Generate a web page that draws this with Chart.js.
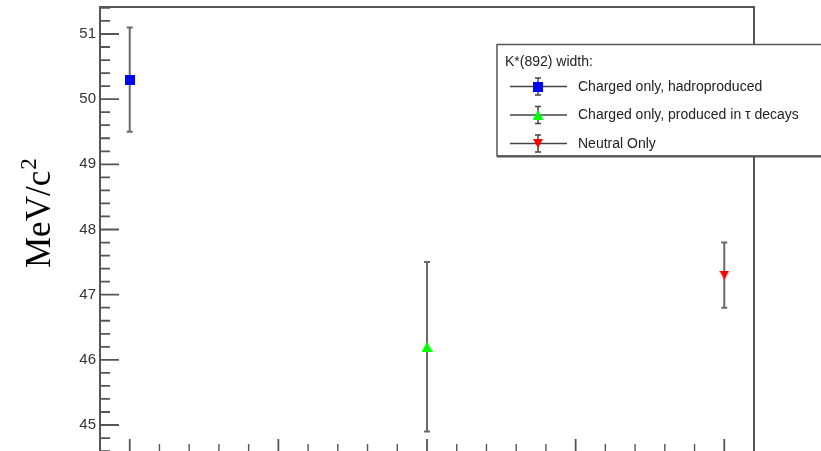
<!DOCTYPE html>
<html lang="en">
<head>
  <meta charset="UTF-8" />
  <title>K*(892) width</title>
  <script src="https://cdn.jsdelivr.net/npm/chart.js"></script>
  <style>
    html, body { margin: 0; padding: 0; background: #fff; overflow: hidden; }
    #wrap { width: 821px; height: 460px; }
  </style>
</head>
<body>
  <div id="wrap"><canvas id="chartCanvas" width="821" height="460"></canvas></div>

  <script>
    // measurements, one point per series
    const xPositions = [1, 2, 3];
    const widths = [50.3, 46.2, 47.3];
    const errors = [0.8, 1.3, 0.5];
    const seriesLabels = [
      'Charged only, hadroproduced',
      'Charged only, produced in \u03C4 decays',
      'Neutral Only'
    ];
    const legendTitle = 'K*(892) width:';
    const yTitle = 'MeV/c';
    const yTitleSup = '2';
    const xMajorTicks = [1, 1.5, 2, 2.5, 3];
    const yRange = [44.586, 51.414];
    const xRange = [0.9, 3.1];

    function markerCanvas(w, h, color, draw) {
      const c = document.createElement('canvas');
      c.width = w; c.height = h;
      const g = c.getContext('2d');
      g.fillStyle = color;
      draw(g, w, h);
      return c;
    }
    const markers = [
      markerCanvas(10, 10, '#0000ff', (g, w, h) => g.fillRect(0, 0, w, h)),
      markerCanvas(11, 10, '#00ff00', (g, w, h) => {
        g.beginPath(); g.moveTo(w / 2, 0); g.lineTo(w, h); g.lineTo(0, h); g.closePath(); g.fill();
      }),
      markerCanvas(10, 9, '#ff0000', (g, w, h) => {
        g.beginPath(); g.moveTo(0, 0); g.lineTo(w, 0); g.lineTo(w / 2, h); g.closePath(); g.fill();
      })
    ];

    function errorBar(ctx, px, top, bot) {
      ctx.beginPath();
      ctx.moveTo(px, top); ctx.lineTo(px, bot);
      ctx.moveTo(px - 3, top); ctx.lineTo(px + 3, top);
      ctx.moveTo(px - 3, bot); ctx.lineTo(px + 3, bot);
      ctx.stroke();
    }

    // ROOT-like frame: inward ticks, error bars, boxed legend
    const rootFrame = {
      id: 'rootFrame',
      beforeDatasetsDraw(chart) {
        const { ctx, scales: { x, y } } = chart;
        ctx.save();
        ctx.strokeStyle = '#6a6a6a';
        ctx.lineWidth = 2;
        xPositions.forEach((xv, i) => {
          const px = x.getPixelForValue(xv);
          errorBar(ctx, px, y.getPixelForValue(widths[i] + errors[i]), y.getPixelForValue(widths[i] - errors[i]));
        });
        ctx.restore();
      },
      afterDraw(chart) {
        const { ctx, chartArea: a, scales: { x, y } } = chart;
        ctx.save();

        // frame
        ctx.strokeStyle = '#444';
        ctx.lineWidth = 1.8;
        ctx.strokeRect(a.left, a.top, a.right - a.left, a.bottom - a.top);

        // y ticks, pointing into the frame
        ctx.strokeStyle = '#555';
        ctx.lineWidth = 1.8;
        ctx.beginPath();
        y.ticks.forEach(t => {
          const py = y.getPixelForValue(t.value);
          ctx.moveTo(a.left, py); ctx.lineTo(a.left + 19, py);
        });
        for (let k = Math.ceil(yRange[0] * 5); k <= Math.floor(yRange[1] * 5); k++) {
          if (k % 5 === 0) continue;
          const py = y.getPixelForValue(k / 5);
          ctx.moveTo(a.left, py); ctx.lineTo(a.left + 10, py);
        }
        ctx.stroke();

        // x ticks
        ctx.beginPath();
        xMajorTicks.forEach(v => {
          const px = x.getPixelForValue(v);
          ctx.moveTo(px, a.bottom); ctx.lineTo(px, a.bottom - 13);
        });
        ctx.stroke();
        ctx.lineWidth = 1.4;
        ctx.beginPath();
        for (let k = Math.ceil(xRange[0] * 10); k <= Math.floor(xRange[1] * 10); k++) {
          if (k % 5 === 0) continue;
          const px = x.getPixelForValue(k / 10);
          ctx.moveTo(px, a.bottom); ctx.lineTo(px, a.bottom - 8);
        }
        ctx.stroke();

        // axis title
        ctx.fillStyle = '#000';
        ctx.translate(50, 268);
        ctx.rotate(-Math.PI / 2);
        ctx.textBaseline = 'alphabetic';
        ctx.textAlign = 'left';
        ctx.font = '35px "Liberation Serif"';
        ctx.fillText(yTitle, 0, 0);
        const tw = ctx.measureText(yTitle).width;
        ctx.font = '23px "Liberation Serif"';
        ctx.fillText(yTitleSup, tw + 1, -14);
        ctx.setTransform(1, 0, 0, 1, 0, 0);

        // legend box
        const bx = 497, by = 44.5, bw = 400, bh = 111.5;
        ctx.fillStyle = '#fff';
        ctx.fillRect(bx, by, bw, bh);
        ctx.strokeStyle = '#555';
        ctx.lineWidth = 1.5;
        ctx.strokeRect(bx, by, bw, bh);
        ctx.lineWidth = 2.2;
        ctx.beginPath(); ctx.moveTo(bx, by + bh + 0.5); ctx.lineTo(bx + bw, by + bh + 0.5); ctx.stroke();

        ctx.font = '14px "Liberation Sans"';
        ctx.textBaseline = 'middle';
        ctx.fillStyle = '#222';
        ctx.fillText(legendTitle, 505, 62);

        const rows = [86.5, 115, 143.5];
        rows.forEach((ry, i) => {
          ctx.strokeStyle = '#444';
          ctx.lineWidth = 1.5;
          ctx.beginPath(); ctx.moveTo(510, ry); ctx.lineTo(567, ry); ctx.stroke();
          errorBar(ctx, 538, ry - 8.5, ry + 8.5);
          const m = markers[i];
          ctx.drawImage(m, 538 - m.width / 2, ry - m.height / 2);
          ctx.fillStyle = '#222';
          ctx.fillText(seriesLabels[i], 578, ry + 0.5);
        });

        ctx.restore();
      }
    };

    const datasets = xPositions.map((xv, i) => ({
      label: seriesLabels[i],
      data: [{ x: xv, y: widths[i] }],
      pointStyle: markers[i],
      showLine: false
    }));

    const chart = new Chart(document.getElementById('chartCanvas'), {
      type: 'scatter',
      data: { datasets },
      options: {
        responsive: false,
        animation: false,
        events: [],
        layout: { padding: { left: 0, top: 7, right: 67, bottom: 8 } },
        plugins: { legend: { display: false }, tooltip: { enabled: false } },
        scales: {
          x: {
            type: 'linear',
            display: false,
            min: xRange[0],
            max: xRange[1]
          },
          y: {
            type: 'linear',
            min: yRange[0],
            max: yRange[1],
            border: { display: false },
            grid: { display: false, drawTicks: false },
            ticks: {
              stepSize: 1,
              includeBounds: false,
              padding: 4,
              color: '#333',
              font: { family: '"Liberation Sans"', size: 15 }
            },
            afterFit(scale) {
              scale.width = 100;
              scale.paddingTop = 0;
              scale.paddingBottom = 0;
            }
          }
        }
      },
      plugins: [rootFrame]
    });
  </script>
</body>
</html>
